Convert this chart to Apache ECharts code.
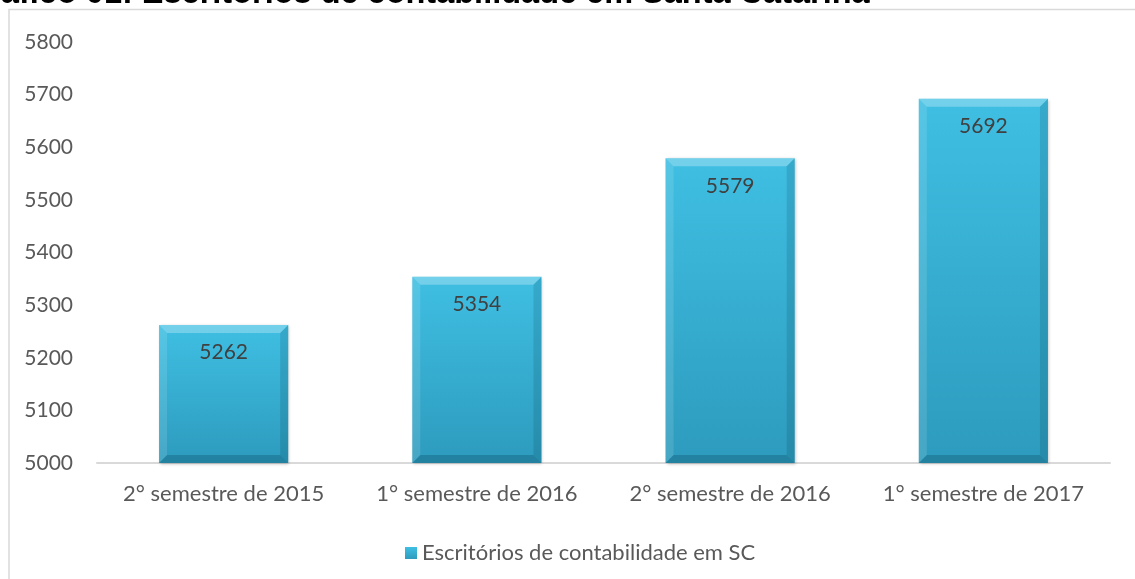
<!DOCTYPE html>
<html><head><meta charset="utf-8">
<script src="https://cdn.jsdelivr.net/npm/echarts@6/dist/echarts.min.js"></script>
<style>html,body{margin:0;padding:0;background:#fff}#c{width:1135px;height:579px}</style>
</head><body><div id="c"></div>
<script>
var categories = ['2° semestre de 2015', '1° semestre de 2016', '2° semestre de 2016', '1° semestre de 2017'];
var values = [5262, 5354, 5579, 5692];
var seriesName = 'Escritórios de contabilidade em SC';
var titleText = 'Gráfico 01: Escritórios de contabilidade em Santa Catarina';
var yMin = 5000, yMax = 5800, yStep = 100;

var FONT = 'Lato, "Open Sans", sans-serif';
var BAR_RATIO = 0.51;
var chart = echarts.init(document.getElementById('c'), null, {renderer: 'canvas'});
chart.setOption({
  animation: false,
  backgroundColor: '#fff',
  graphic: [
    {type: 'rect', shape: {x: 9, y: 9.5, width: 1140, height: 580}, style: {fill: 'none', stroke: '#d9d9d9', lineWidth: 1.5}, z: 0},
    {type: 'text', x: -37, y: -5.5, style: {text: titleText, font: 'bold 32.5px "Liberation Sans", Arial, sans-serif', fill: '#000', verticalAlign: 'middle'}, z: 10}
  ],
  grid: {left: 97, right: 25, top: 42, bottom: 116, containLabel: false},
  legend: {
    data: [seriesName], left: 400, top: 537, itemWidth: 12, itemHeight: 12, itemGap: 4,
    icon: 'rect',
    textStyle: {fontFamily: FONT, fontSize: 22, color: '#595959'}
  },
  xAxis: {
    type: 'category', data: categories,
    axisLine: {lineStyle: {color: '#d9d9d9', width: 2}},
    axisTick: {show: false},
    axisLabel: {interval: 0, hideOverlap: false, fontFamily: FONT, fontSize: 22, color: '#595959', margin: 20}
  },
  yAxis: {
    type: 'value', min: yMin, max: yMax, interval: yStep,
    axisLine: {show: false}, axisTick: {show: false}, splitLine: {show: false},
    axisLabel: {fontFamily: FONT, fontSize: 21, color: '#595959', margin: 24, formatter: function (v) { return String(v); }}
  },
  series: [
    {
      name: seriesName, type: 'bar', data: values, barCategoryGap: '49%', z: 2,
      itemStyle: {
        color: new echarts.graphic.LinearGradient(0, 0, 0, 1, [
          {offset: 0, color: '#3fbfe3'}, {offset: 1, color: '#2d9bbd'}
        ]),
        shadowColor: 'rgba(0,0,0,0.25)', shadowBlur: 3, shadowOffsetX: 1, shadowOffsetY: 1
      },
      label: {show: true, position: 'insideTop', distance: 17, fontFamily: FONT, fontSize: 21, color: '#404040'}
    },
    {
      name: 'bevel', type: 'custom', z: 3, silent: true,
      data: values.map(function (v, i) { return [i, v]; }),
      renderItem: function (params, api) {
        var i = api.value(0), v = api.value(1);
        var top = api.coord([i, v]);
        var base = api.coord([i, yMin]);
        var w = api.size([1, 0])[0] * BAR_RATIO;
        var x0 = top[0] - w / 2, x1 = top[0] + w / 2, y0 = top[1], y1 = base[1];
        var b = 8;
        return {type: 'group', children: [
          {type: 'polygon', shape: {points: [[x0, y0], [x1, y0], [x1 - b, y0 + b], [x0 + b, y0 + b]]}, style: {fill: 'rgba(255,255,255,0.28)'}},
          {type: 'polygon', shape: {points: [[x0, y0], [x0 + b, y0 + b], [x0 + b, y1 - b], [x0, y1]]}, style: {fill: 'rgba(255,255,255,0.12)'}},
          {type: 'polygon', shape: {points: [[x1, y0], [x1, y1], [x1 - b, y1 - b], [x1 - b, y0 + b]]}, style: {fill: 'rgba(0,40,60,0.14)'}},
          {type: 'polygon', shape: {points: [[x0, y1], [x0 + b, y1 - b], [x1 - b, y1 - b], [x1, y1]]}, style: {fill: 'rgba(0,40,60,0.22)'}}
        ]};
      }
    }
  ]
});
</script></body></html>
